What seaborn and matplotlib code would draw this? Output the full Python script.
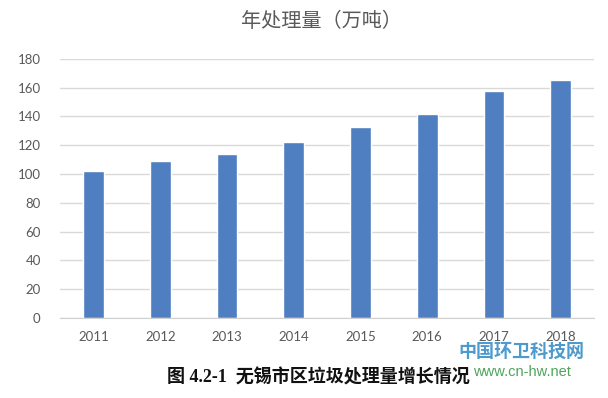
import seaborn as sns
import pandas as pd
import matplotlib.pyplot as plt

# 年处理量 (万吨)
years = ['2011', '2012', '2013', '2014', '2015', '2016', '2017', '2018']
amount = [102, 109, 114, 122, 132.5, 142, 158, 165]

title = '年处理量（万吨）'
caption = '图 4.2-1  无锡市区垃圾处理量增长情况'
wm_name = '中国环卫科技网'
wm_url = 'www.cn-hw.net'

sns.set_style('white')
plt.rcParams['font.family'] = ['Lato', 'Noto Sans CJK SC', 'DejaVu Sans']

df = pd.DataFrame({'year': years, 'amount': amount})

fig = plt.figure(figsize=(6.08, 3.98), dpi=100)
ax = fig.add_axes([0.099, 0.201, 0.878, 0.651])
sns.barplot(data=df, x='year', y='amount', color='#4f7fc0', saturation=1,
            width=0.31, ax=ax)

ax.set_ylim(0, 180)
ax.set_yticks(range(0, 181, 20))
ax.set_xlim(-0.5, len(years) - 0.5)
ax.yaxis.grid(True, color='#d9d9d9', linewidth=1)
ax.set_axisbelow(True)
for s in ['top', 'right', 'left']:
    ax.spines[s].set_visible(False)
ax.spines['bottom'].set_color('#d0d0d0')
ax.tick_params(axis='both', length=0, labelsize=9.5, colors='#595959')
ax.tick_params(axis='y', pad=14)
ax.tick_params(axis='x', pad=9)
ax.set_xlabel('')
ax.set_ylabel('')

fig.text(0.528, 0.945, title, ha='center', va='center', fontsize=14.5,
         color='#595959', family=['Noto Sans CJK SC'])

fig.text(0.523, 0.052, caption, ha='center', va='center', fontsize=13,
         fontweight='bold', color='#111111',
         family=['Liberation Serif', 'Noto Sans CJK SC'])

# watermark, kept just under the year labels
fig.text(0.858, 0.118, wm_name, ha='center', va='center', fontsize=13,
         fontweight='bold', color='#3a8fc9', alpha=0.9,
         family=['Noto Sans CJK SC'])
fig.text(0.858, 0.066, wm_url, ha='center', va='center', fontsize=10.5,
         color='#3d9a4c', alpha=0.9, family=['Liberation Sans'])

fig.savefig('out.png', dpi=100)
